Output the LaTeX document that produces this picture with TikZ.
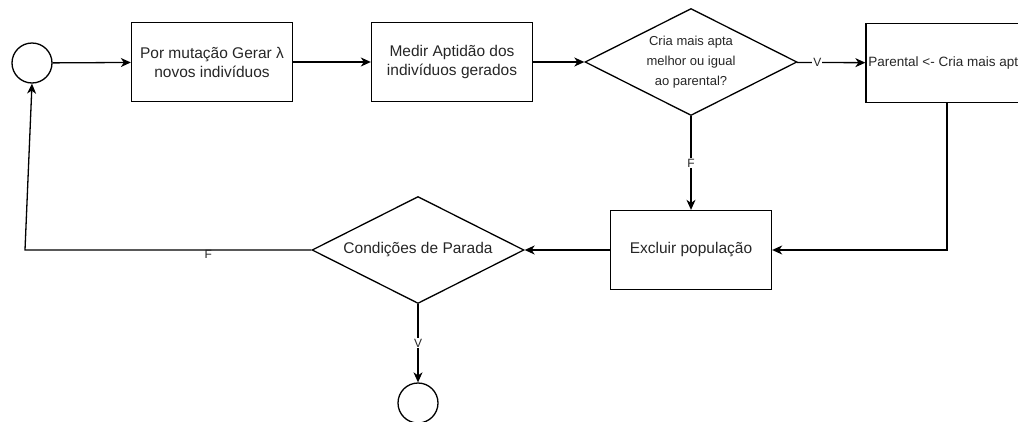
\documentclass[tikz,border=0pt]{standalone}
\usepackage{fontspec}
\setmainfont{Liberation Sans}
\usetikzlibrary{shapes.geometric,arrows.meta,positioning}

\begin{document}
\begin{tikzpicture}[x=1pt,y=-1pt,
    font=\fontsize{15.5}{19}\selectfont,
    box/.style={draw,line width=1.3pt,minimum width=161pt,minimum height=79pt,
        align=center,inner sep=0pt,text=black!85},
    decision/.style={draw,diamond,line width=1.3pt,minimum width=212pt,
        minimum height=107pt,inner sep=0pt},
    terminal/.style={draw,circle,line width=1.3pt,minimum size=40pt,inner sep=0pt},
    flow/.style={line width=1.3pt,-{Stealth[length=10pt,width=9pt,inset=3pt]}},
    cond/.style={fill=white,inner sep=1pt,font=\fontsize{12}{14}\selectfont,text=black!85}]
                \useasboundingbox (0,0) rectangle (1018,421);
                \clip (0,0) rectangle (1018,421);
                % Upper row
                \node[terminal] (start) at (32,63) {};
                \node[box] (gen) at (212,62) {Por mutação Gerar λ\\novos indivíduos};
                \node[box] (fit) at (452,62) {Medir Aptidão dos\\indivíduos gerados};
                \node[decision, label={[align=center,text=black!85,
                    font=\fontsize{13}{20}\selectfont]center:{Cria mais apta\\melhor ou igual\\ao parental?}}] (better) at (691,62) {};
                \node[box,minimum width=162pt,font=\fontsize{13.5}{16}\selectfont] (parent) at (947,63) {Parental <- Cria mais apta};
                % Lower row
                \node[box] (purge) at (691,250) {Excluir população};
                \node[decision, label={[text=black!85]center:Condições de Parada}] (stop) at (418,250) {};
                \node[terminal] (finish) at (418,403) {};
                \coordinate (loop) at (25,250);
                % Connectors
                \draw[flow] (start) -- (gen);
                \draw[flow] (gen) -- (fit);
                \draw[flow] (fit) -- (better);
                \draw[flow] (better) -- node[cond,pos=0.3] {V} (parent);
                \draw[flow] (better) -- node[cond] {F} (purge);
                \draw[flow] (parent.south) |- (purge.east);
                \draw[flow] (purge) -- (stop);
                \draw[flow] (stop) -- node[cond] {V} (finish);
                \draw[flow] (stop.west) -- node[pos=0.36,below,inner sep=0pt,
                    font=\fontsize{12}{14}\selectfont,text=black!85] {F} (loop) -- (start.south);
            \end{tikzpicture}
\end{document}
